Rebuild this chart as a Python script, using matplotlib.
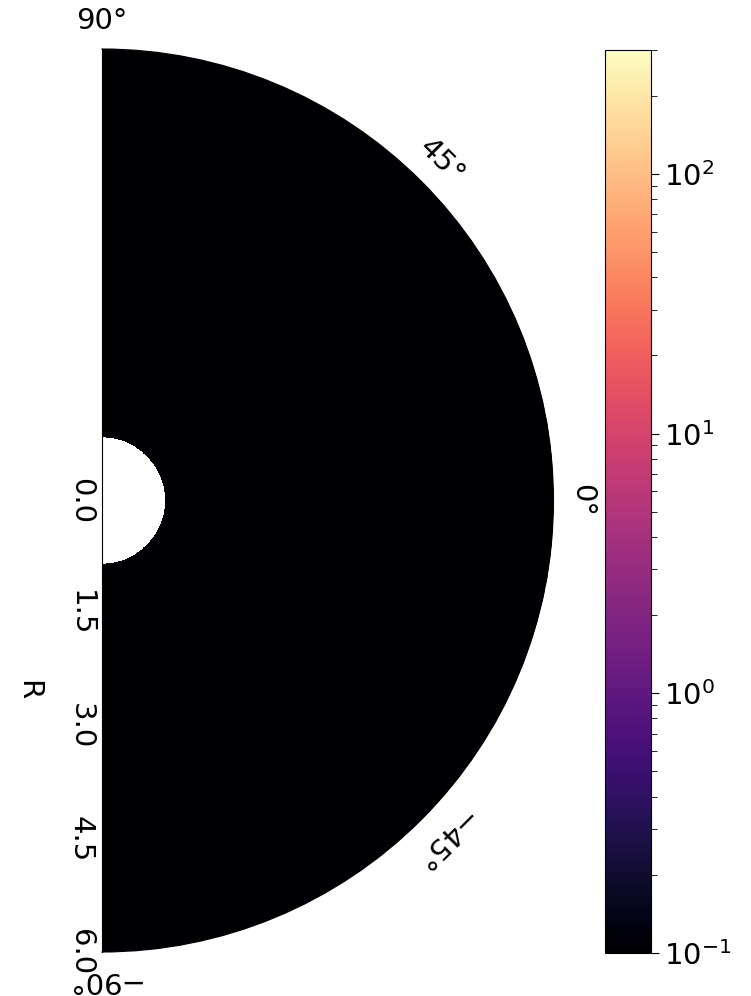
import numpy as np
import matplotlib
matplotlib.use("Agg")
import matplotlib.pyplot as plt
from matplotlib.colors import LogNorm
from matplotlib.transforms import ScaledTranslation

# ---- data ----
theta_edges_deg = np.linspace(-90, 90, 181)      # angular mesh edges
r_edges = np.linspace(0.84, 6.0, 60)             # radial mesh edges (hole inside r<0.84)
field_level = 0.1                                # every cell sits at the bottom of the scale
r_ticks = [0.0, 1.5, 3.0, 4.5, 6.0]
r_tick_labels = ["0.0", "1.5", "3.0", "4.5", "6.0"]
theta_ticks_deg = [-90, -45, 0, 45, 90]
theta_tick_labels = ["\u221290\u00b0", "\u221245\u00b0", "0\u00b0", "45\u00b0", "90\u00b0"]
cbar_vmin, cbar_vmax = 0.1, 300.0
r_max = 6.0

plt.rcParams["font.family"] = ["DejaVu Sans"]
FS = 21

fig = plt.figure(figsize=(7.51, 9.96), dpi=100)
W, H = 751, 996
S = 903
cx = 102 + S / 4
ax = fig.add_axes([(cx - S / 2) / W, (H - 952) / H, S / W, S / H], projection="polar")
ax.set_thetamin(-90)
ax.set_thetamax(90)

TH, RR = np.meshgrid(np.deg2rad(theta_edges_deg), r_edges)
values = np.full((len(r_edges) - 1, len(theta_edges_deg) - 1), field_level)
norm = LogNorm(vmin=cbar_vmin, vmax=cbar_vmax)
mesh = ax.pcolormesh(TH, RR, values, cmap="magma", norm=norm, shading="flat")

ax.set_ylim(0, r_max)
ax.set_yticks(r_ticks)
ax.set_yticklabels([""] * len(r_ticks))
ax.grid(False)
ax.set_xticks(np.deg2rad(theta_ticks_deg))
ax.set_xticklabels([""] * len(theta_ticks_deg))

# radial tick labels along the -90 deg spine, rotated like the reference
off = ax.transData + ScaledTranslation(-0.21, 0, fig.dpi_scale_trans)
for rv, lab in zip(r_ticks, r_tick_labels):
    ax.text(np.deg2rad(-90), rv, lab, transform=off, rotation=-90,
            ha="center", va="center", fontsize=FS, clip_on=False)
fig.text(28 / W, 1 - 690 / H, "R", rotation=-90, ha="center", va="center",
         fontsize=FS)

for t, lab in zip(theta_ticks_deg, theta_tick_labels):
    ax.text(np.deg2rad(t), r_max * 1.063, lab, rotation=t - 90,
            rotation_mode="anchor", ha="center", va="center",
            fontsize=FS, clip_on=False)

cax = fig.add_axes([605 / W, (H - 953) / H, 46 / W, 903 / H])
cb = fig.colorbar(mesh, cax=cax)
cb.ax.tick_params(labelsize=FS, length=6)
cb.ax.tick_params(which="minor", length=4)

fig.savefig("out.png", dpi=100)
